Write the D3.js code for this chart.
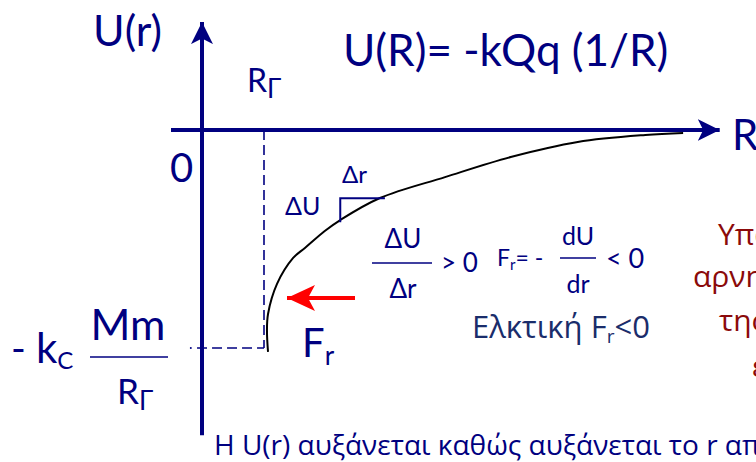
<!DOCTYPE html>
<html>
<head>
<meta charset="utf-8">
<script src="https://cdn.jsdelivr.net/npm/d3@7"></script>
<style>
  body { margin: 0; background: #fff; }
  svg { display: block; font-family: Lato, "Open Sans", sans-serif; }
</style>
</head>
<body>
<script>
// curve U(r), units: r in R_Γ, U in kMm/R_Γ
const curveR = [1.065, 1.048, 1.065, 1.21, 1.47, 1.66, 1.98, 2.23, 2.87, 3.92, 4.98, 6.06, 7.15, 7.76];
const curveU = [-1.018, -0.922, -0.844, -0.706, -0.587, -0.541, -0.463, -0.413, -0.312, -0.216, -0.124, -0.055, -0.023, -0.014];
const rGamma = 1;
const uGamma = -1;
const rAxisRange = [-0.5, 8.35];
const uAxisRange = [-1.4, 0.495];
const deltaStep = { r0: 2.23, r1: 2.95, u0: -0.313, u1: -0.423 };

const width = 756, height = 462;
const navy = "#000080";
const wide = "'Open Sans', sans-serif";

const svg = d3.select("body").append("svg")
    .attr("width", width)
    .attr("height", height);

const x = d3.scaleLinear().domain([0, 1]).range([202, 264]);
const y = d3.scaleLinear().domain([0, -1]).range([130, 348]);

const defs = svg.append("defs");
function marker(id, color, w, h) {
    defs.append("marker")
        .attr("id", id)
        .attr("viewBox", `0 0 ${w} ${h}`)
        .attr("refX", w).attr("refY", h / 2)
        .attr("markerWidth", w).attr("markerHeight", h)
        .attr("markerUnits", "userSpaceOnUse")
        .attr("orient", "auto")
        .append("path")
        .attr("d", `M0,0 L${w},${h / 2} L0,${h} L${w * 0.25},${h / 2} Z`)
        .attr("fill", color);
}
marker("arrNavy", navy, 22, 22);
marker("arrRed", "#ff0000", 28, 26);

// axes
svg.append("line")
    .attr("x1", x(rAxisRange[0])).attr("x2", x(rAxisRange[1]))
    .attr("y1", y(0)).attr("y2", y(0))
    .attr("stroke", navy).attr("stroke-width", 4)
    .attr("marker-end", "url(#arrNavy)");
svg.append("line")
    .attr("x1", x(0)).attr("x2", x(0))
    .attr("y1", y(uAxisRange[0])).attr("y2", y(uAxisRange[1]))
    .attr("stroke", navy).attr("stroke-width", 4)
    .attr("marker-end", "url(#arrNavy)");

// dashed guides
svg.append("line")
    .attr("x1", x(rGamma)).attr("x2", x(rGamma))
    .attr("y1", y(0)).attr("y2", y(uGamma))
    .attr("stroke", navy).attr("stroke-width", 1.6)
    .attr("stroke-dasharray", "10,5");
svg.append("line")
    .attr("x1", x(-0.08)).attr("x2", x(rGamma))
    .attr("y1", y(uGamma)).attr("y2", y(uGamma))
    .attr("stroke", navy).attr("stroke-width", 1.6)
    .attr("stroke-dasharray", "10,5");
svg.append("circle")
    .attr("cx", x(-0.18)).attr("cy", y(uGamma))
    .attr("r", 1).attr("fill", navy);

// curve
const pts = curveR.map((r, i) => [r, curveU[i]]);
svg.append("path")
    .datum(pts)
    .attr("d", d3.line().x(d => x(d[0])).y(d => y(d[1])).curve(d3.curveCatmullRom))
    .attr("fill", "none")
    .attr("stroke", "#000")
    .attr("stroke-width", 2);

// delta step
svg.append("path")
    .attr("d", `M${x(deltaStep.r0)},${y(deltaStep.u1)} V${y(deltaStep.u0)} H${x(deltaStep.r1)}`)
    .attr("fill", "none").attr("stroke", navy).attr("stroke-width", 2);

// red force arrow
svg.append("line")
    .attr("x1", 355).attr("x2", 287)
    .attr("y1", 298).attr("y2", 298)
    .attr("stroke", "#ff0000").attr("stroke-width", 4)
    .attr("marker-end", "url(#arrRed)");

// text helper
function txt(xp, yp, size, parts, color = navy, anchor = "start", family = null) {
    const t = svg.append("text")
        .attr("x", xp).attr("y", yp)
        .attr("font-size", size)
        .attr("fill", color)
        .attr("text-anchor", anchor);
    if (family) t.attr("font-family", family);
    parts.forEach(p => {
        if (typeof p === "string") t.append("tspan").text(p);
        else t.append("tspan").attr("font-size", p.size).attr("dy", p.dy).text(p.t);
    });
    return t;
}
function fracLine(x1, x2, yy) {
    svg.append("line").attr("x1", x1).attr("x2", x2).attr("y1", yy).attr("y2", yy)
        .attr("stroke", navy).attr("stroke-width", 1.5);
}

txt(93, 46, 43, ["U(r)"]);
txt(343, 66, 44, ["U(R)= -kQq (1/R)"]);
txt(247, 92, 32, ["R", { t: "Γ", size: 26, dy: 6 }]);
txt(170, 182, 40, ["0"]);
txt(732, 150, 42, ["R"]);

txt(342, 183, 24, ["Δr"]);
txt(285, 215, 25, ["ΔU"]);

// fraction ΔU/Δr > 0
txt(403, 248, 26, ["ΔU"], navy, "middle");
fracLine(372, 432, 263);
txt(403, 298, 26, ["Δr"], navy, "middle");
txt(441, 272, 26, ["> 0"]);

// F_r = - dU/dr < 0
txt(497, 266, 23, ["F", { t: "r", size: 15, dy: 4 }, { t: "= -", size: 23, dy: -4 }]);
txt(578, 245, 25, ["dU"], navy, "middle");
fracLine(560, 596, 258);
txt(578, 293, 25, ["dr"], navy, "middle");
txt(606, 268, 27, ["< 0"]);

txt(472, 338, 31, ["Ελκτική F", { t: "r", size: 19, dy: 5 }, { t: "<0", size: 31, dy: -5 }], "#1a2d6b", "start", wide);

// -k_C Mm/R_Γ
txt(11, 363, 40, ["-"]);
txt(36, 363, 42, ["k", { t: "C", size: 24, dy: 6 }]);
txt(128, 340, 43, ["Mm"], navy, "middle");
fracLine(90, 168, 357);
txt(117, 404, 35, ["R", { t: "Γ", size: 26, dy: 6 }]);

txt(302, 357, 40, ["F", { t: "r", size: 26, dy: 8 }]);

// right red text (cut by the frame)
const darkRed = "#8b0a0a";
txt(718, 245, 30, ["Υπάρχει"], darkRed, "start", wide);
txt(693, 287, 30, ["αρνητική"], darkRed, "start", wide);
txt(719, 331, 30, ["της"], darkRed, "start", wide);
txt(752, 377, 30, ["ενέργεια"], darkRed, "start", wide);

txt(214, 455, 28, ["Η U(r) αυξάνεται καθώς αυξάνεται το r από R", { t: "Γ", size: 18, dy: 4 }, { t: " έως το άπειρο", size: 28, dy: -4 }], navy, "start", wide);
</script>
</body>
</html>
